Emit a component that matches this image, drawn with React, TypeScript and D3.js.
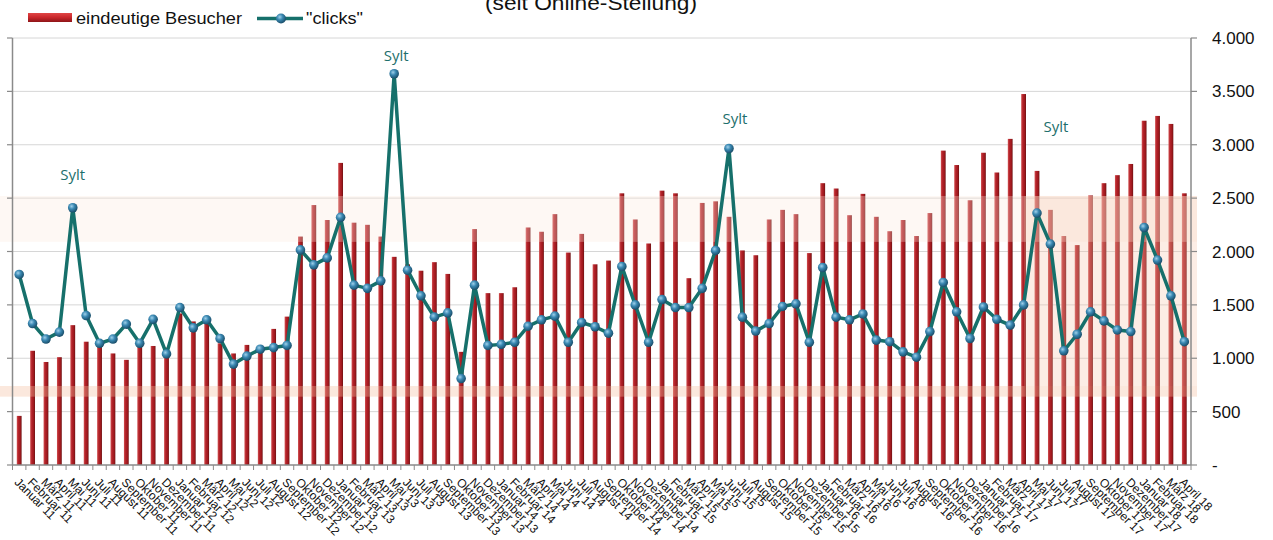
import React from "react";
import * as d3 from "d3";

const categories = [
  "Januar 11","Februar 11","März 11","April 11","Mai 11","Juni 11","Juli 11","August 11","September 11","Oktober 11","November 11","Dezember 11",
  "Januar 12","Februar 12","März 12","April 12","Mai 12","Juni 12","Juli 12","August 12","September 12","Oktober 12","November 12","Dezember 12",
  "Januar 13","Februar 13","März 13","April 13","Mai 13","Juni 13","Juli 13","August 13","September 13","Oktober 13","November 13","Dezember 13",
  "Januar 14","Februar 14","März 14","April 14","Mai 14","Juni 14","Juli 14","August 14","September 14","Oktober 14","November 14","Dezember 14",
  "Januar 15","Februar 15","März 15","April 15","Mai 15","Juni 15","Juli 15","August 15","September 15","Oktober 15","November 15","Dezember 15",
  "Januar 16","Februar 16","März 16","April 16","Mai 16","Juni 16","Juli 16","August 16","September 16","Oktober 16","November 16","Dezember 16",
  "Januar 17","Februar 17","März 17","April 17","Mai 17","Juni 17","Juli 17","August 17","September 17","Oktober 17","November 17","Dezember 17",
  "Januar 18","Februar 18","März 18","April 18",
];

// eindeutige Besucher (bars)
const visitors = [
  460, 1070, 965, 1010, 1310, 1155, 1145, 1045, 985, 1130, 1115, 1100,
  1420, 1345, 1330, 1140, 1045, 1125, 1080, 1275, 1390, 2140, 2435, 2295,
  2830, 2270, 2250, 2140, 1950, 1880, 1820, 1900, 1790, 1060, 2210, 1610,
  1610, 1665, 2225, 2185, 2350, 1990, 2165, 1880, 1915, 2545, 2300, 2075,
  2570, 2545, 1750, 2455, 2470, 2325, 2010, 1965, 2300, 2390, 2350, 1985,
  2640, 2590, 2340, 2540, 2325, 2190, 2295, 2145, 2360, 2945, 2810, 2480,
  2925, 2740, 3055, 3475, 2755, 2390, 2145, 2060, 2525, 2640, 2715, 2820,
  3225, 3270, 3195, 2545,
];

// "clicks" (line)
const clicks = [
  1785, 1325, 1180, 1245, 2410, 1400, 1140, 1180, 1320, 1140, 1365, 1040,
  1475, 1285, 1360, 1185, 945, 1020, 1085, 1100, 1120, 2015, 1875, 1940,
  2320, 1685, 1655, 1725, 3665, 1825, 1585, 1385, 1425, 810, 1685, 1120,
  1130, 1150, 1300, 1360, 1395, 1150, 1335, 1295, 1235, 1860, 1500, 1150,
  1550, 1475, 1475, 1655, 2010, 2965, 1385, 1255, 1325, 1485, 1510, 1150,
  1850, 1385, 1360, 1415, 1170, 1155, 1060, 1010, 1250, 1710, 1435, 1185,
  1480, 1365, 1310, 1500, 2360, 2070, 1070, 1225, 1435, 1350, 1265, 1250,
  2225, 1920, 1585, 1155,
];

const yTicks = [0, 500, 1000, 1500, 2000, 2500, 3000, 3500, 4000];
const yTickLabels = ["-", "500", "1.000", "1.500", "2.000", "2.500", "3.000", "3.500", "4.000"];

const seriesNames = ["eindeutige Besucher", '"clicks"'];
const subtitle = "(seit Online-Stellung)";

// annotation: month, text, level (value at label baseline)
const annotations = [
  { month: "Mai 11", text: "Sylt", level: 2670 },
  { month: "Mai 13", text: "Sylt", level: 3785 },
  { month: "Juni 15", text: "Sylt", level: 3195 },
  { month: "Mai 17", text: "Sylt", level: 3120 },
];

const W = 1273;
const H = 540;
const left = 12.5;
const right = 1191;
const top = 38;
const bottom = 465;
const FONT = "'Liberation Sans', Arial, Helvetica, sans-serif";

export default function App() {
  const x = d3.scaleBand<string>().domain(categories).range([left, right]).padding(0);
  const y = d3.scaleLinear().domain([0, 4000]).range([bottom, top]);
  const bw = x.bandwidth();
  const cx = (c: string) => (x(c) as number) + bw / 2;
  const barW = 4.8;

  const line = d3
    .line<number>()
    .x((_, i) => cx(categories[i]))
    .y((d) => y(d));

  const annDx = [0, 2, 6, 19];
  const blockX = (x("Mai 17") as number) - 6;

  return (
    <svg width={W} height={H} style={{ position: "absolute", left: 0, top: 0, background: "#fff" }}>
      <defs>
        <linearGradient id="barGrad" x1="0" x2="1" y1="0" y2="0">
          <stop offset="0%" stopColor="#d05050" />
          <stop offset="35%" stopColor="#b3222a" />
          <stop offset="75%" stopColor="#9c181c" />
          <stop offset="100%" stopColor="#6a1012" />
        </linearGradient>
        <linearGradient id="legGrad" x1="0" x2="0" y1="0" y2="1">
          <stop offset="0%" stopColor="#e04545" />
          <stop offset="50%" stopColor="#c8262a" />
          <stop offset="100%" stopColor="#8e1518" />
        </linearGradient>
        <radialGradient id="dotGrad" cx="38%" cy="35%" r="65%">
          <stop offset="0%" stopColor="#9fd0ea" />
          <stop offset="45%" stopColor="#3a88b2" />
          <stop offset="100%" stopColor="#1a4e6a" />
        </radialGradient>
      </defs>

      {/* subtitle (partly cut at top, as in the original) */}
      <text x={591} y={10} textAnchor="middle" fontFamily={FONT} fontSize={20} fill="#111"
        textLength={212} lengthAdjust="spacingAndGlyphs">{subtitle}</text>

      {/* legend */}
      <rect x={28} y={13} width={44} height={9} fill="url(#legGrad)" />
      <text x={76} y={23.5} fontFamily={FONT} fontSize={16} fill="#111" textLength={166}
        lengthAdjust="spacingAndGlyphs">{seriesNames[0]}</text>
      <line x1={257} x2={303} y1={18.5} y2={18.5} stroke="#16706b" strokeWidth={3.5} />
      <circle cx={281} cy={18.5} r={5} fill="url(#dotGrad)" />
      <text x={306} y={23.5} fontFamily={FONT} fontSize={16} fill="#111" textLength={57}
        lengthAdjust="spacingAndGlyphs">{seriesNames[1]}</text>

      {/* gridlines */}
      {yTicks.filter((t) => t > 0).map((t) => (
        <line key={t} x1={left} x2={right} y1={y(t)} y2={y(t)} stroke="#d6d6d6" strokeWidth={1} />
      ))}

      {/* bars */}
      {visitors.map((v, i) => (
        <rect key={i} x={cx(categories[i]) - barW / 2} y={y(v)} width={barW} height={y(0) - y(v)} fill="url(#barGrad)" />
      ))}

      {/* faded overlay artifacts of the original image */}
      <rect x={0} y={y(2520)} width={1197} height={y(2090) - y(2520)} fill="#fde8dc" opacity={0.3} />
      <rect x={0} y={y(740)} width={1197} height={y(640) - y(740)} fill="#f4bc9e" opacity={0.35} />
      <rect x={blockX} y={y(2520)} width={1197 - blockX} height={y(740) - y(2520)} fill="#f6c4a8" opacity={0.3} />

      {/* axes */}
      <line x1={left} x2={left} y1={top} y2={bottom} stroke="#8a8a8a" strokeWidth={1.5} />
      {yTicks.map((t) => (
        <line key={"lt" + t} x1={7} x2={left} y1={y(t)} y2={y(t)} stroke="#8a8a8a" strokeWidth={1.2} />
      ))}
      <line x1={right} x2={right} y1={top} y2={bottom} stroke="#8a8a8a" strokeWidth={1.5} />
      {yTicks.map((t, i) => (
        <g key={"rt" + t}>
          <line x1={right} x2={right + 6} y1={y(t)} y2={y(t)} stroke="#8a8a8a" strokeWidth={1.2} />
          <text x={1212} y={y(t)} dy="0.36em" fontFamily={FONT} fontSize={17} fill="#111">{yTickLabels[i]}</text>
        </g>
      ))}
      <line x1={left} x2={right} y1={bottom} y2={bottom} stroke="#8a8a8a" strokeWidth={1.5} />
      {categories.map((c) => (
        <line key={"bt" + c} x1={x(c) as number} x2={x(c) as number} y1={bottom} y2={bottom + 5} stroke="#8a8a8a" strokeWidth={1} />
      ))}
      <line x1={right} x2={right} y1={bottom} y2={bottom + 5} stroke="#8a8a8a" strokeWidth={1} />

      {/* category labels */}
      {categories.map((c) => (
        <text key={"cl" + c} transform={`translate(${cx(c) - 5.5},${bottom + 18}) rotate(45)`}
          fontFamily={FONT} fontSize={12} fill="#111">{c}</text>
      ))}

      {/* clicks line */}
      <path d={line(clicks) || ""} fill="none" stroke="#16706b" strokeWidth={3.5} strokeLinejoin="round" />
      {clicks.map((v, i) => (
        <circle key={"d" + i} cx={cx(categories[i])} cy={y(v)} r={4.8} fill="url(#dotGrad)" />
      ))}

      {/* annotations */}
      {annotations.map((a, i) => (
        <text key={"an" + i} x={cx(a.month) + annDx[i]} y={y(a.level)} textAnchor="middle"
          fontFamily="'Open Sans', 'Noto Sans', sans-serif" fontSize={15} fill="#1e6f6c">{a.text}</text>
      ))}
    </svg>
  );
}
